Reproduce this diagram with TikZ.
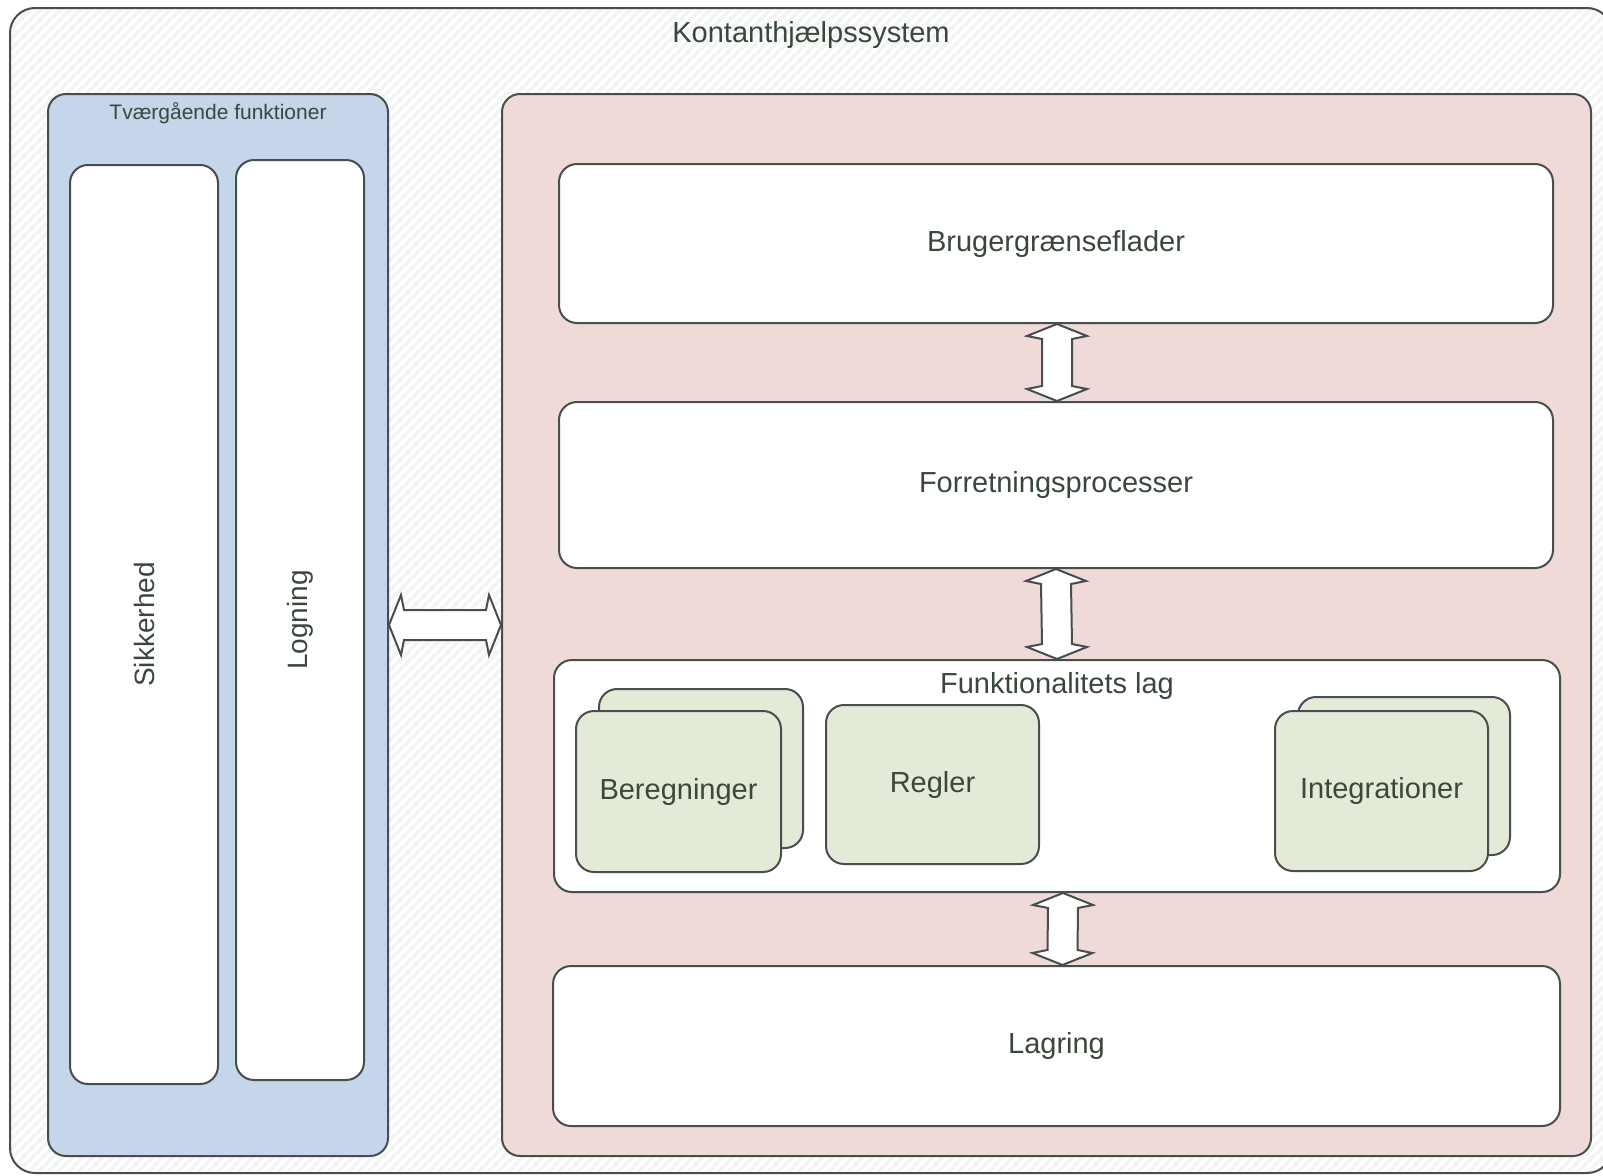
\documentclass[tikz,border=0pt]{standalone}
\usepackage{fontspec}
\setmainfont{Liberation Sans}
\usetikzlibrary{calc}

\definecolor{bluec}{RGB}{197,213,234}
\definecolor{pinkc}{RGB}{240,218,216}
\definecolor{greenc}{RGB}{227,235,216}
\definecolor{linec}{RGB}{72,78,78}
\definecolor{textc}{RGB}{58,72,60}
\definecolor{hatchc}{RGB}{243,245,244}

% vertical two-headed block arrow from the bottom of #1 to the top of #2
\newcommand\vlink[3]{%
  \draw[blockarrow] ([xshift=#3]#1.south) -- ++(30,12) -- ++(-15,3)
    -- ($([xshift=#3]#2.north)+(15,-15)$) -- ++(15,3)
    -- ([xshift=#3]#2.north) -- ++(-30,-12) -- ++(15,-3)
    -- ($([xshift=#3]#1.south)+(-15,15)$) -- ++(-15,-3) -- cycle;}
% horizontal two-headed block arrow from the right of #1 to the left of #2
\newcommand\hlink[2]{%
  \draw[blockarrow] (#1.east) -- ++(12,-30) -- ++(3,15)
    -- ($(#2.west)+(-15,-15)$) -- ++(3,-15)
    -- (#2.west) -- ++(-12,30) -- ++(-3,-15)
    -- ($(#1.east)+(15,15)$) -- ++(-3,15) -- cycle;}

\begin{document}
\begin{tikzpicture}[x=1pt,y=-1pt,
  outline/.style={draw=linec, line width=2pt},
  box/.style={outline, rounded corners=18pt, inner sep=0pt},
  whitebox/.style={box, fill=white},
  greenbox/.style={box, fill=greenc},
  blockarrow/.style={outline, fill=white, line join=miter},
  txt/.style={text=textc, inner sep=0pt, font=\fontsize{29}{34}\selectfont},
  smalltxt/.style={text=textc, inner sep=0pt, font=\fontsize{21}{25}\selectfont},
  sidetxt/.style={text=textc, inner sep=0pt, rotate=90, font=\fontsize{28}{33}\selectfont},
]
\useasboundingbox (0,0) rectangle (1603,1175);
\clip (0,0) rectangle (1603,1175);

% system frame with its faint diagonal hatching
\begin{scope}
  \clip[rounded corners=25pt] (10,8) rectangle (1612,1173);
  \fill[white] (0,0) rectangle (1620,1180);
  \foreach \i in {-1200,-1190,...,1620}
    \draw[hatchc, line width=4pt] (\i,1180) -- ++(1180,-1180);
\end{scope}
\node[box, rounded corners=25pt, minimum width=1602pt, minimum height=1165pt] (system) at (811,590.5) {};
\node[txt] (systemtitle) at (811,35) {Kontanthjælpssystem};

% cross-cutting functions
\node[box, fill=bluec, minimum width=340pt, minimum height=1062pt] (cross) at (218,625) {};
\node[smalltxt] (crosstitle) at (218,113) {Tværgående funktioner};
\node[whitebox, minimum width=148pt, minimum height=919pt] (security) at (144,624.5) {};
\node[sidetxt] (securitytxt) at (security.center) {Sikkerhed};
\node[whitebox, minimum width=128pt, minimum height=920pt] (logging) at (300,620) {};
\node[sidetxt] (loggingtxt) at (logging.center) {Logning};

% layered stack
\node[box, fill=pinkc, minimum width=1089pt, minimum height=1062pt] (layers) at (1046.5,625) {};
\node[whitebox, txt, minimum width=994pt, minimum height=159pt] (ui) at (1056,243.5) {Brugergrænseflader};
\node[whitebox, txt, minimum width=994pt, minimum height=166pt] (process) at (1056,485) {Forretningsprocesser};
\node[whitebox, minimum width=1006pt, minimum height=232pt] (func) at (1057,776) {};
\node[txt] (functitle) at (1057,686) {Funktionalitets lag};
\node[whitebox, txt, minimum width=1007pt, minimum height=160pt] (storage) at (1056.5,1046) {Lagring};

% components of the functionality layer
\node[greenbox, minimum width=204pt, minimum height=159pt] (calcback) at (701,768.5) {};
\node[greenbox, txt, minimum width=205pt, minimum height=161pt] (calc) at (678.5,791.5) {Beregninger};
\node[greenbox, txt, minimum width=213pt, minimum height=159pt] (rules) at (932.5,784.5) {Regler};
\node[greenbox, minimum width=212pt, minimum height=158pt] (integback) at (1404,776) {};
\node[greenbox, txt, minimum width=213pt, minimum height=160pt] (integ) at (1381.5,791) {Integrationer};

% connectors
\vlink{ui}{process}{1pt}
\vlink{process}{func}{0pt}
\vlink{func}{storage}{6pt}
\hlink{cross}{layers}
\end{tikzpicture}
\end{document}
